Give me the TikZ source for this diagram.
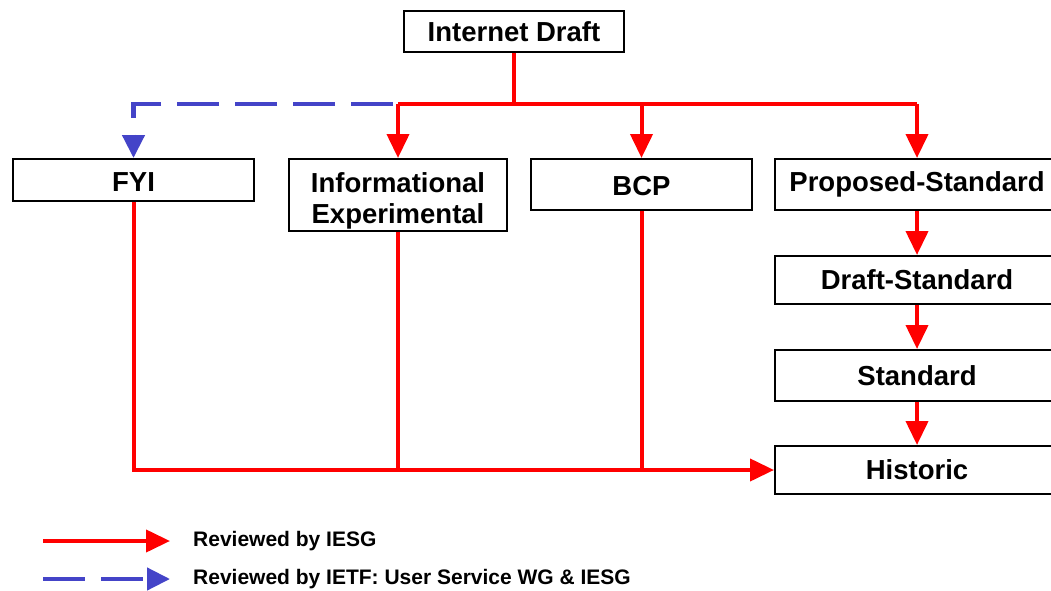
\documentclass[tikz,border=0pt]{standalone}
\usepackage{fontspec}
\setmainfont{Liberation Sans}
\usetikzlibrary{arrows.meta}
\definecolor{ired}{RGB}{255,0,0}
\definecolor{iblue}{RGB}{68,68,200}
\tikzset{
  box/.style={draw=black, line width=2pt, fill=white, inner sep=0pt, align=center,
    font=\fontsize{27.5}{31}\selectfont\bfseries},
  redline/.style={draw=ired, line width=4pt, line join=miter},
  redarrow/.style={redline, -{Triangle[length=24pt,width=22pt]}},
  bluearrow/.style={draw=iblue, line width=4.5pt, line join=miter,
    dash pattern=on 42pt off 16pt, dash phase=53pt,
    -{Triangle[length=23pt,width=22pt]}},
  legtext/.style={anchor=west, inner sep=0pt, font=\fontsize{21}{24}\selectfont\bfseries}
}
\begin{document}
\begin{tikzpicture}[x=1pt,y=-1pt]
\useasboundingbox (0,0) rectangle (1051,591);
\clip (0,0) rectangle (1051,591);
\node[box, minimum width=220pt, minimum height=41pt] (id) at (514,31.5) {Internet Draft};
\node[box, minimum width=241pt, minimum height=42pt] (fyi) at (133.5,180) {\rule{0pt}{23pt}FYI};
\node[box, minimum width=218pt, minimum height=72pt] (info) at (398,195) {\rule{0pt}{31pt}Informational\\Experimental};
\node[box, minimum width=221pt, minimum height=51pt] (bcp) at (641.5,184.5) {\rule{0pt}{23pt}BCP};
\node[box, minimum width=284pt, minimum height=51pt] (prop) at (917,184.5) {Proposed-Standard};
\node[box, minimum width=284pt, minimum height=48pt] (draft) at (917,280) {Draft-Standard};
\node[box, minimum width=284pt, minimum height=51pt] (std) at (917,375.5) {Standard};
\node[box, minimum width=284pt, minimum height=48pt] (hist) at (917,470) {Historic};

\coordinate (jL) at (398,104);
\coordinate (jC) at (514,104);
\coordinate (jB) at (641.5,104);
\coordinate (jR) at (917,104);

\draw[redline] (id.south) -- (jC);
\draw[redline] (jL) -- (jR);
\draw[bluearrow] (jL) -| (fyi.north);
\draw[redarrow] (jL) -- (info.north);
\draw[redarrow] (jB) -- (bcp.north);
\draw[redarrow] (jR) -- (prop.north);
\draw[redarrow] (prop.south) -- (draft.north);
\draw[redarrow] (draft.south) -- (std.north);
\draw[redarrow] (std.south) -- (hist.north);

\coordinate (bF) at (fyi.south |- hist.west);
\coordinate (bI) at (info.south |- hist.west);
\coordinate (bB) at (bcp.south |- hist.west);
\draw[redarrow] (fyi.south) -- (bF) -- (hist.west);
\draw[redline] (info.south) -- (bI);
\draw[redline] (bcp.south) -- (bB);

% legend
\coordinate (l1a) at (43,541);
\coordinate (l1b) at (170,541);
\coordinate (l2a) at (43,579);
\coordinate (l2b) at (170,579);
\draw[redarrow] (l1a) -- (l1b);
\draw[bluearrow, dash phase=0pt] (l2a) -- (l2b);
\node[legtext] (t1) at (193,541) {Reviewed by IESG};
\node[legtext] (t2) at (193,579) {Reviewed by IETF: User Service WG \& IESG};
\end{tikzpicture}
\end{document}
